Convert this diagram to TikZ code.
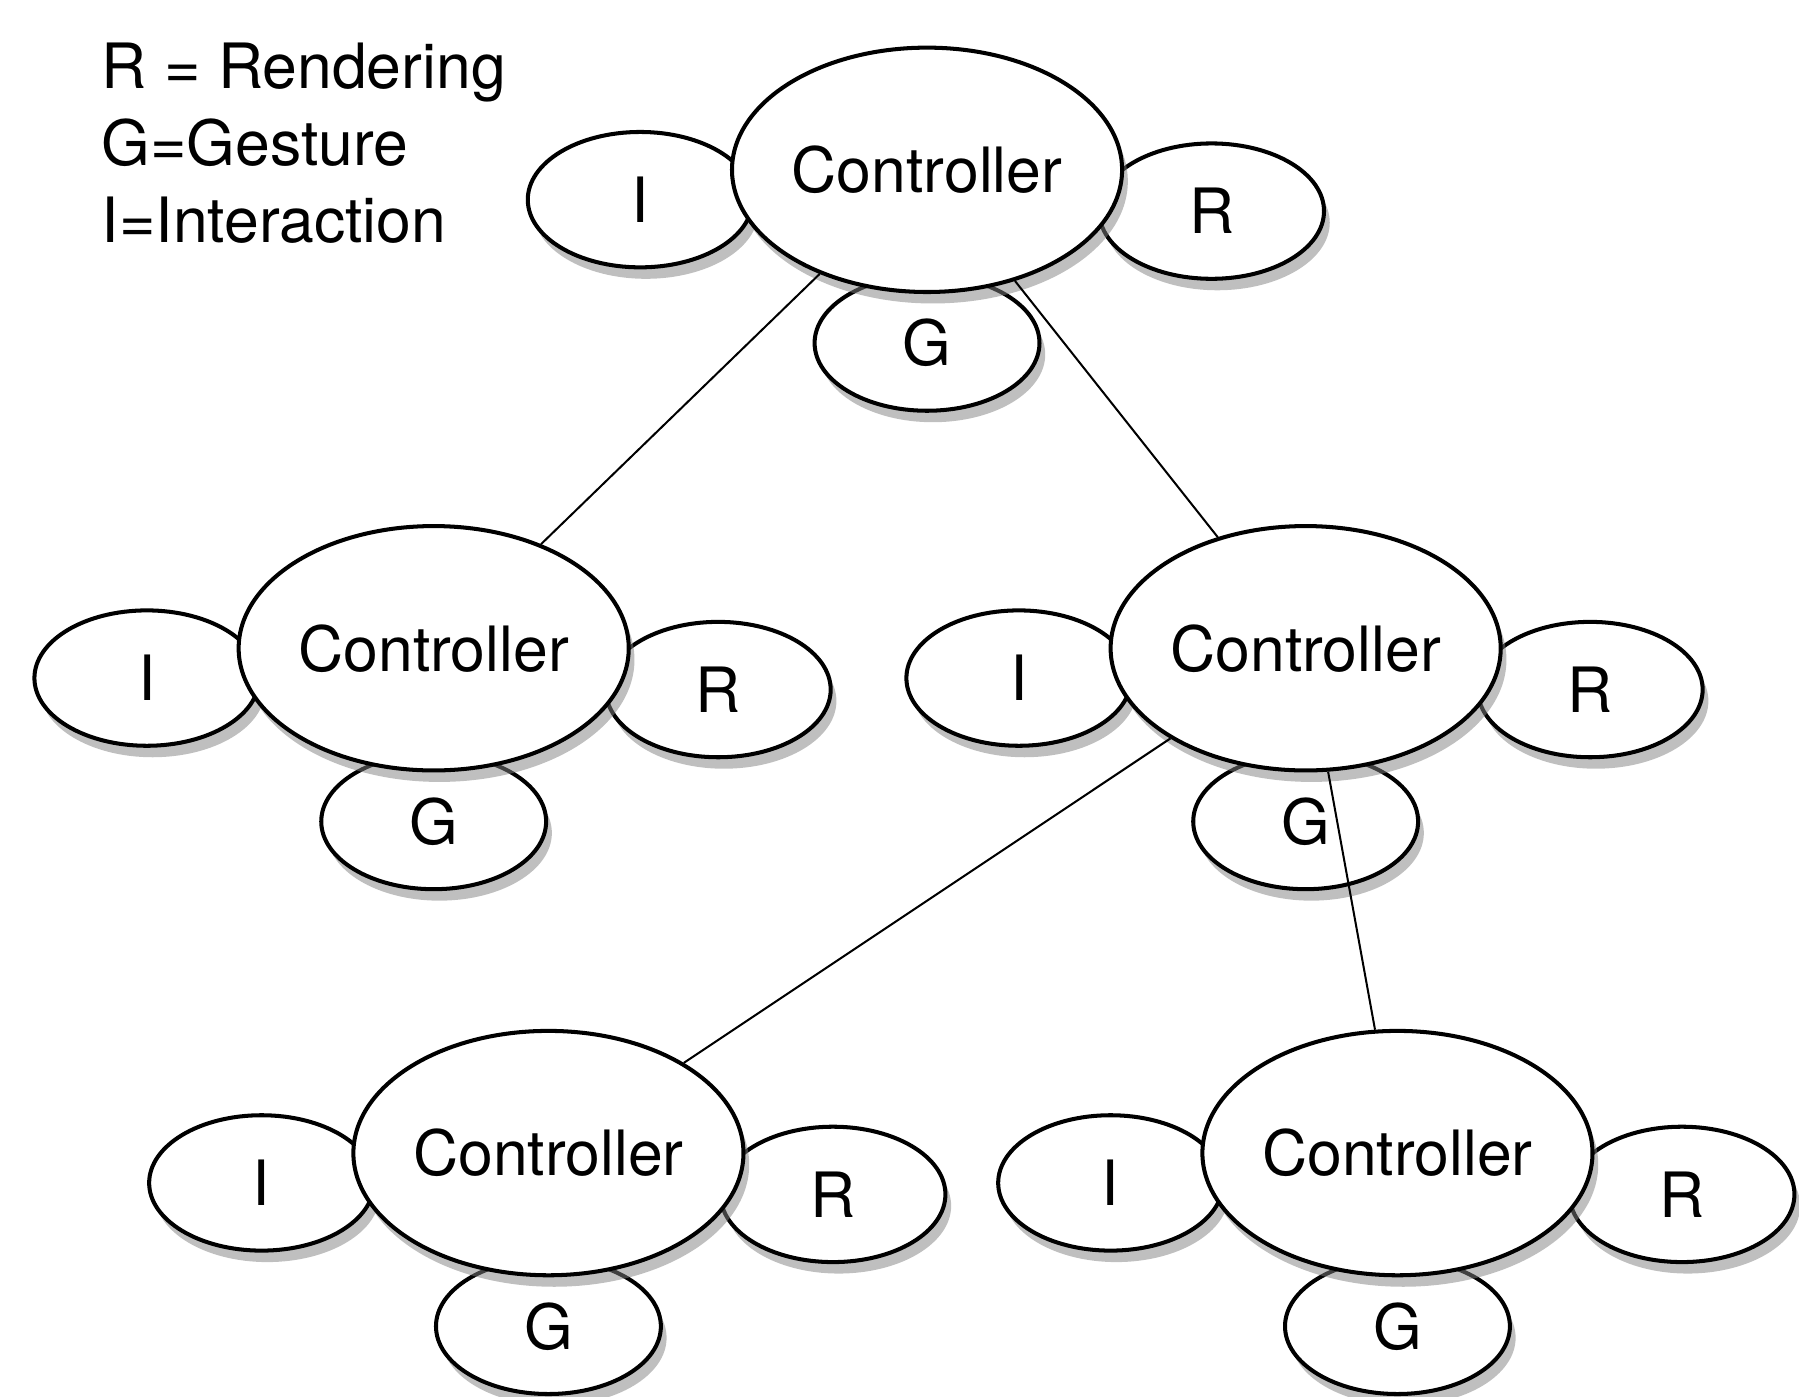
\documentclass[tikz,border=0pt]{standalone}
\usepackage{fontspec}
\setmainfont{TeX Gyre Heros}
\usetikzlibrary{shapes.geometric,shadows}
\tikzset{
	ctrl/.style={draw, ellipse, fill=white, line width=1pt, inner sep=0pt,
		minimum width=3.4cm, minimum height=2.13cm,
		drop shadow={opacity=0.5, shadow xshift=0.5mm, shadow yshift=-1mm}},
	part/.style={ctrl, minimum width=1.96cm, minimum height=1.18cm},
	link/.style={line width=0.5pt},
	legend/.style={anchor=base west, inner sep=0pt}
}
\begin{document}
\begin{tikzpicture}[font=\fontsize{15.5}{19}\selectfont]
			\useasboundingbox (0,0) rectangle (15.68,-12.17);
			
			\node[legend] (legR) at (0.88,-0.77) {R = Rendering};
			\node[legend] (legG) at (0.88,-1.44) {G=Gesture};
			\node[legend] (legI) at (0.88,-2.11) {I=Interaction};
			
			\foreach \n/\x/\y in {top/8.08/-1.48, ml/3.78/-5.65, mr/11.38/-5.65, bl/4.78/-10.05, br/12.18/-10.05}
			{
				\node[part] (i\n) at ({\x-2.5},{\y-0.26}) {I};
				\node[part] (r\n) at ({\x+2.48},{\y-0.36}) {R};
				\node[part] (g\n) at ({\x},{\y-1.51}) {G};
				\node[ctrl] (c\n) at (\x,\y) {Controller};
			}
			\path[link] (ctop) edge (cml) edge (cmr);
			\path[link] (cmr) edge (cbl) edge (cbr);
			\end{tikzpicture}
\end{document}
